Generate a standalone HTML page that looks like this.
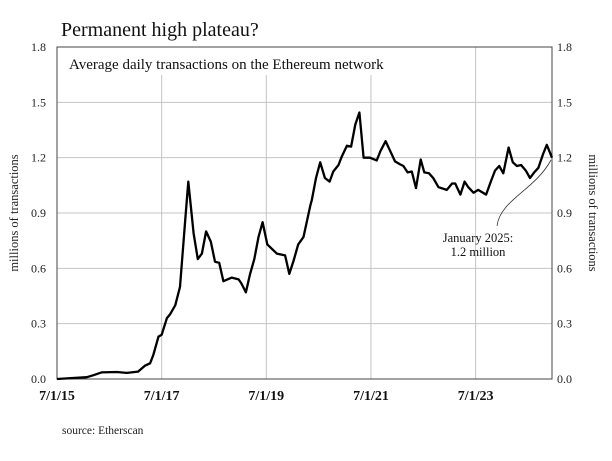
<!DOCTYPE html>
<html><head><meta charset="utf-8"><style>
html,body{margin:0;padding:0;background:#fff;}
svg{display:block;font-family:"Liberation Serif",serif;}
</style></head><body>
<svg width="612" height="461" viewBox="0 0 612 461">
<text x="61" y="36" font-size="20" fill="#111">Permanent high plateau?</text>
<g id="grid"></g>
<rect x="57" y="47" width="495" height="332" fill="none" stroke="#444" stroke-width="1"/>
<rect x="64" y="52" width="380" height="22" fill="#fff"/>
<text x="69" y="69" font-size="15" fill="#111">Average daily transactions on the Ethereum network</text>
<g id="yt"></g>
<g id="xt"></g>
<text transform="translate(18,213) rotate(-90)" text-anchor="middle" font-size="12.5" fill="#222">millions of transactions</text>
<text transform="translate(589,213) rotate(90)" text-anchor="middle" font-size="12.5" fill="#222">millions of transactions</text>
<path id="line" fill="none" stroke="#000" stroke-width="2.3" stroke-linejoin="round"/>
<path d="M551,160 C535,190 500,200 497,226" fill="none" stroke="#333" stroke-width="0.8"/>
<text x="478" y="242" text-anchor="middle" font-size="12.5" fill="#111">January 2025:</text>
<text x="478" y="256" text-anchor="middle" font-size="12.5" fill="#111">1.2 million</text>
<text x="62" y="434" font-size="11.5" fill="#222">source: Etherscan</text>
</svg>
<script>
const years=[0,0.57,0.69,0.85,1.14,1.33,1.55,1.68,1.78,1.84,1.94,2.0,2.10,2.16,2.26,2.35,2.45,2.51,2.61,2.69,2.77,2.85,2.94,3.02,3.10,3.18,3.34,3.47,3.52,3.61,3.69,3.77,3.85,3.93,4.02,4.2,4.36,4.44,4.52,4.61,4.71,4.84,4.87,4.95,5.03,5.12,5.21,5.28,5.38,5.44,5.54,5.62,5.70,5.78,5.86,5.98,6.11,6.18,6.28,6.37,6.46,6.55,6.62,6.70,6.78,6.86,6.95,7.02,7.11,7.19,7.29,7.45,7.55,7.61,7.71,7.79,7.86,7.96,8.05,8.20,8.29,8.37,8.45,8.53,8.63,8.71,8.79,8.87,8.96,9.04,9.12,9.20,9.29,9.36,9.46];
const values=[0,0.01,0.02,0.036,0.038,0.033,0.04,0.072,0.085,0.13,0.23,0.24,0.33,0.35,0.40,0.50,0.86,1.07,0.79,0.65,0.68,0.80,0.745,0.636,0.63,0.53,0.55,0.54,0.52,0.47,0.57,0.65,0.77,0.85,0.73,0.68,0.67,0.57,0.64,0.73,0.77,0.94,0.97,1.09,1.175,1.09,1.07,1.125,1.16,1.205,1.265,1.26,1.38,1.445,1.20,1.20,1.185,1.235,1.29,1.235,1.18,1.165,1.155,1.12,1.125,1.035,1.19,1.12,1.115,1.09,1.04,1.025,1.06,1.06,1.00,1.07,1.04,1.01,1.025,1.00,1.07,1.13,1.155,1.115,1.255,1.175,1.155,1.16,1.13,1.09,1.12,1.145,1.22,1.27,1.20];
const yTicks=[0,0.3,0.6,0.9,1.2,1.5,1.8];
const yTickLabels=["0.0","0.3","0.6","0.9","1.2","1.5","1.8"];
const xTicks=[0,2,4,6,8];
const xTickLabels=["7/1/15","7/1/17","7/1/19","7/1/21","7/1/23"];
const X0=57,X1=552,Y0=379,Y1=47,TMAX=9.46,VMAX=1.8;
const xs=t=>X0+t/TMAX*(X1-X0);
const ys=v=>Y0-v/VMAX*(Y0-Y1);
const NS="http://www.w3.org/2000/svg";
const grid=document.getElementById('grid'),yt=document.getElementById('yt'),xt=document.getElementById('xt');
yTicks.forEach((v,i)=>{
  const l=document.createElementNS(NS,'line');
  l.setAttribute('x1',X0);l.setAttribute('x2',X1);l.setAttribute('y1',ys(v));l.setAttribute('y2',ys(v));
  l.setAttribute('stroke','#c4c4c4');l.setAttribute('stroke-width','1');
  
  
  grid.appendChild(l);
  [[46,'end'],[557,'start']].forEach(([x,a])=>{
    const t=document.createElementNS(NS,'text');
    t.setAttribute('x',x);t.setAttribute('y',ys(v)+4);t.setAttribute('text-anchor',a);
    t.setAttribute('font-size','12');t.setAttribute('fill','#222');
    t.textContent=yTickLabels[i];
    
    
    yt.appendChild(t);
  });
});
xTicks.forEach((v,i)=>{
  if(v>0){
    const l=document.createElementNS(NS,'line');
    l.setAttribute('x1',xs(v));l.setAttribute('x2',xs(v));l.setAttribute('y1',v===8?Y1:75);l.setAttribute('y2',Y0);
    l.setAttribute('stroke','#c4c4c4');l.setAttribute('stroke-width','1');
    
    
    grid.appendChild(l);
  }
  const t=document.createElementNS(NS,'text');
  t.setAttribute('x',xs(v));t.setAttribute('y',400);t.setAttribute('text-anchor','middle');
  t.setAttribute('font-size','14');t.setAttribute('font-weight','bold');t.setAttribute('fill','#111');
  t.textContent=xTickLabels[i];
  
  
  xt.appendChild(t);
});
document.getElementById('line').setAttribute('d',years.map((t,i)=>(i?'L':'M')+xs(t).toFixed(1)+','+ys(values[i]).toFixed(1)).join(' '));
</script>
</body></html>
